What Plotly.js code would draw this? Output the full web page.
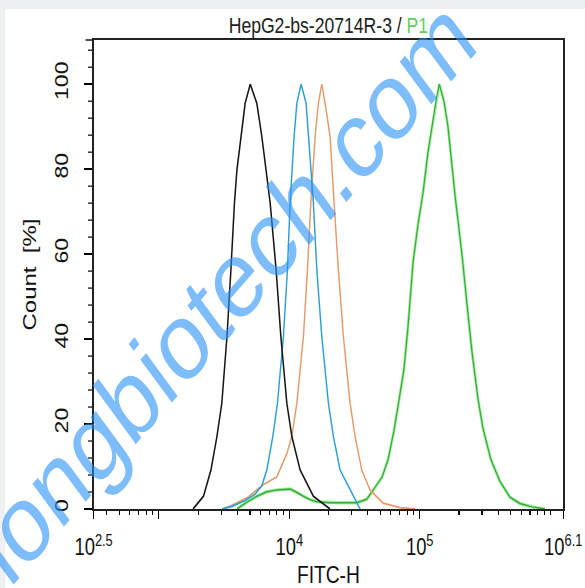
<!DOCTYPE html>
<html>
<head>
<meta charset="utf-8">
<script src="https://cdn.plot.ly/plotly-3.0.1.min.js"></script>
<style>
  html, body { margin: 0; padding: 0; overflow: hidden; background: #eef0f1; }
  #wrap { width: 585px; height: 588px; overflow: hidden; }
  #chart { width: 731px; height: 588px; transform: scaleX(0.8); transform-origin: 0 0; }
</style>
</head>
<body>
<div id="wrap"><div id="chart"></div></div>
<script>
// ---- data (FITC-H intensity, Count %) ----
const blackX = [1830, 2200, 2510, 2790, 3040, 3330, 3570, 3800, 3970, 4260, 4590, 5020, 5640, 6160, 6650, 7140, 7930, 8620, 9580, 10460, 12110, 15310, 20560];
const blackY = [0, 3, 9.2, 17.1, 24.9, 40.6, 56.3, 72, 79.8, 87.7, 95.5, 100, 95.5, 87.7, 79.8, 72, 56.3, 40.6, 24.9, 17.1, 9.2, 3, 0];

const blueX = [3060, 3650, 4590, 5480, 6160, 6730, 7480, 8120, 9020, 9680, 10150, 10890, 11430, 12330, 13460, 14020, 15310, 16260, 17760, 19950, 21790, 24520, 31000, 34890];
const blueY = [0, 0.6, 2, 3.5, 5.5, 9.2, 17.1, 24.9, 40.6, 56.3, 72, 87.7, 95.5, 100, 95.5, 87.7, 72, 56.3, 40.6, 24.9, 17.1, 9.2, 3, 0];

const orangeX = [3120, 3520, 4730, 6310, 8030, 9580, 10460, 11430, 12840, 13780, 14630, 15780, 16720, 17760, 18820, 20560, 22060, 23790, 25990, 29250, 31950, 35950, 41620, 52340, 70670, 92000];
const orangeY = [0, 0.7, 2.6, 5.7, 7.6, 13, 17.1, 24.9, 40.6, 56.3, 72, 87.7, 95.5, 100, 95.5, 87.7, 72, 56.3, 40.6, 24.9, 17.1, 9.2, 4.5, 1.4, 0.3, 0];

const greenX = [3970, 4670, 5640, 6650, 8030, 10150, 11290, 12770, 14450, 16260, 20560, 24520, 32920, 39260, 43120, 46270, 51420, 57180, 63560, 70670, 75810, 81380, 88870, 97050, 106000, 115770, 124230, 133280, 141280, 153530, 164740, 186290, 210720, 230250, 251570, 279610, 305390, 351560, 412100, 491600, 586250, 724440, 911010];
const greenY = [0, 1.5, 3, 4, 4.5, 4.7, 4, 3, 2.2, 1.7, 1.5, 1.5, 1.5, 2.3, 4, 5.5, 7.5, 11.6, 18.5, 27, 33, 43, 58, 67, 74.4, 84, 90, 96, 100, 96, 90, 74, 60, 48, 37, 26, 19, 11.6, 6.5, 2.8, 1.3, 0.5, 0];

const xTickVals = [Math.pow(10, 2.5), 1000, 10000, 100000, Math.pow(10, 6.1)];
const xTickText = ['10<sup>2.5</sup>', '', '10<sup>4</sup>', '10<sup>5</sup>', '10<sup>6.1</sup>'];
const xMinorVals = [400, 500, 600, 700, 800, 900, 2000, 3000, 4000, 5000, 6000, 7000, 8000, 9000,
  20000, 30000, 40000, 50000, 60000, 70000, 80000, 90000,
  200000, 300000, 400000, 500000, 600000, 700000, 800000, 900000, 1000000];
const yTickVals = [0, 20, 40, 60, 80, 100];
const yTickText = ['0', '20', '40', '60', '80', '100'];

const titleMain = 'HepG2-bs-20714R-3 / ';
const titleGate = 'P1';
const watermark = 'zhongbiotech.com';

const FONT = 'Liberation Sans, Arial, sans-serif';

const traces = [
  { x: greenX, y: greenY, mode: 'lines', line: { color: 'rgba(95,230,95,0.6)', width: 3.5 }, hoverinfo: 'skip' },
  { x: greenX, y: greenY, mode: 'lines', line: { color: '#38a83a', width: 1.5 } },
  { x: orangeX, y: orangeY, mode: 'lines', line: { color: '#e49a6b', width: 1.8 } },
  { x: blueX, y: blueY, mode: 'lines', line: { color: '#2a9fd6', width: 1.8 } },
  { x: blackX, y: blackY, mode: 'lines', line: { color: '#151515', width: 1.9 } }
];

const layout = {
  width: 731, height: 588,
  margin: { l: 117, r: 27, t: 40, b: 79, pad: 0 },
  paper_bgcolor: '#eef0f1',
  plot_bgcolor: '#ffffff',
  showlegend: false,
  font: { family: FONT, color: '#222' },
  title: {
    text: titleMain + '<span style="color:#5fcf5f">' + titleGate + '</span>',
    font: { family: FONT, size: 22, color: '#222' },
    x: 0.5, xref: 'paper', xanchor: 'center',
    y: 1 - 25 / 588, yref: 'container', yanchor: 'middle'
  },
  xaxis: {
    type: 'log', range: [2.5, 6.1],
    tickmode: 'array', tickvals: xTickVals, ticktext: xTickText,
    ticks: 'outside', ticklen: 8, tickwidth: 1.6, tickcolor: '#000',
    minor: { tickmode: 'array', tickvals: xMinorVals, ticks: 'outside', ticklen: 4, tickwidth: 1.4, tickcolor: '#000', showgrid: false },
    showline: true, linecolor: '#222', linewidth: 1.6, mirror: true,
    showgrid: false, zeroline: false,
    tickfont: { family: FONT, size: 23, color: '#111' },
    ticklabelstandoff: 9,
    title: { text: 'FITC-H', font: { family: FONT, size: 24, color: '#111' }, standoff: 9 }
  },
  yaxis: {
    range: [0, 110.4],
    tickmode: 'array', tickvals: yTickVals, ticktext: yTickText,
    ticks: 'outside', ticklen: 10, tickwidth: 1.4, tickcolor: '#000',
    tickangle: -90,
    minor: { tick0: 0, dtick: 4, ticks: 'outside', ticklen: 5, tickwidth: 1.2, tickcolor: '#000', showgrid: false },
    showline: true, linecolor: '#222', linewidth: 2, mirror: true,
    showgrid: false, zeroline: false,
    tickfont: { family: FONT, size: 23, color: '#111' },
    ticklabelstandoff: 11,
    title: { text: 'Count  [%]', font: { family: FONT, size: 24, color: '#111' }, standoff: 12 }
  },
  shapes: [
    { type: 'rect', xref: 'paper', yref: 'paper', x0: -0.1879, x1: 1.05, y0: -0.18, y1: 1.0661,
      fillcolor: '#ffffff', line: { width: 0 }, layer: 'below' },
    { type: 'line', xref: 'paper', yref: 'paper', x0: -10 / 587, x1: 0, y0: 1, y1: 1,
      line: { color: '#222', width: 1.6 } }
  ],
  annotations: [
    { text: watermark, xref: 'paper', yref: 'paper', x: 0.22, y: 0.40,
      xanchor: 'center', yanchor: 'middle', showarrow: false, textangle: -42.6,
      font: { family: FONT, size: 110, color: 'rgba(40,145,250,0.6)' } }
  ]
};

Plotly.newPlot('chart', traces, layout, { staticPlot: true, displayModeBar: false });
</script>
</body>
</html>
